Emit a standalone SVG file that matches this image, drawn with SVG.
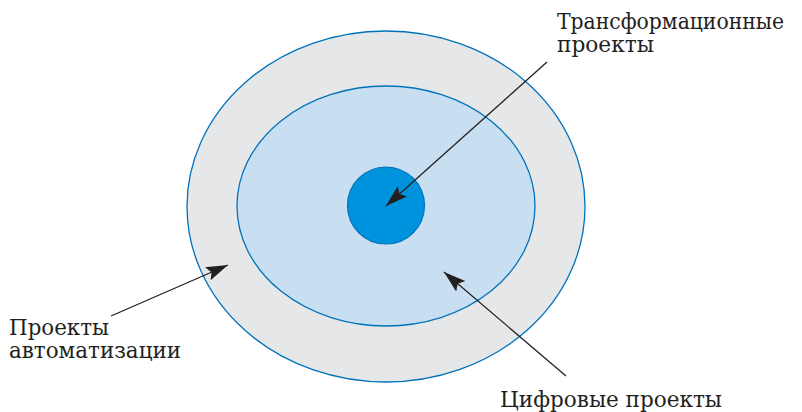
<svg xmlns="http://www.w3.org/2000/svg" width="802" height="412" viewBox="0 0 802 412">
<style>
.lbl{font-family:"DejaVu Serif","Liberation Serif",serif;font-size:22px;fill:#231f20}
.conn{stroke:#231f20;stroke-width:1.3;fill:none}
</style>
<defs>
<marker id="ah" markerUnits="userSpaceOnUse" markerWidth="24" markerHeight="16" refX="22" refY="7" orient="auto">
<path d="M0,0 L22,7 L0,14 L4,7 z" fill="#231f20"/>
</marker>
</defs>
<rect width="802" height="412" fill="#ffffff"/>
<g id="automation">
<ellipse cx="386" cy="206.5" rx="199" ry="175.5" fill="#e6e7e8" stroke="#0072bc" stroke-width="1.3"/>
</g>
<g id="digital">
<ellipse cx="386" cy="206" rx="149" ry="120" fill="#c8dff2" stroke="#0072bc" stroke-width="1.3"/>
</g>
<g id="transformation">
<circle cx="386" cy="205.5" r="38.5" fill="#0093dd" stroke="#0073bb" stroke-width="1.2"/>
</g>
<g id="connectors">
<line class="conn" x1="547" y1="62" x2="386" y2="206" marker-end="url(#ah)"/>
<line class="conn" x1="111" y1="316" x2="228" y2="265" marker-end="url(#ah)"/>
<line class="conn" x1="566" y1="376" x2="444" y2="272" marker-end="url(#ah)"/>
</g>
<g id="labels">
<text class="lbl" x="557" y="29" textLength="227" lengthAdjust="spacingAndGlyphs">Трансформационные</text>
<text class="lbl" x="557" y="52" textLength="97" lengthAdjust="spacingAndGlyphs">проекты</text>
<text class="lbl" x="9" y="335" textLength="100" lengthAdjust="spacingAndGlyphs">Проекты</text>
<text class="lbl" x="9" y="358" textLength="172" lengthAdjust="spacingAndGlyphs">автоматизации</text>
<text class="lbl" x="500" y="407" textLength="222" lengthAdjust="spacingAndGlyphs">Цифровые проекты</text>
</g>
</svg>
